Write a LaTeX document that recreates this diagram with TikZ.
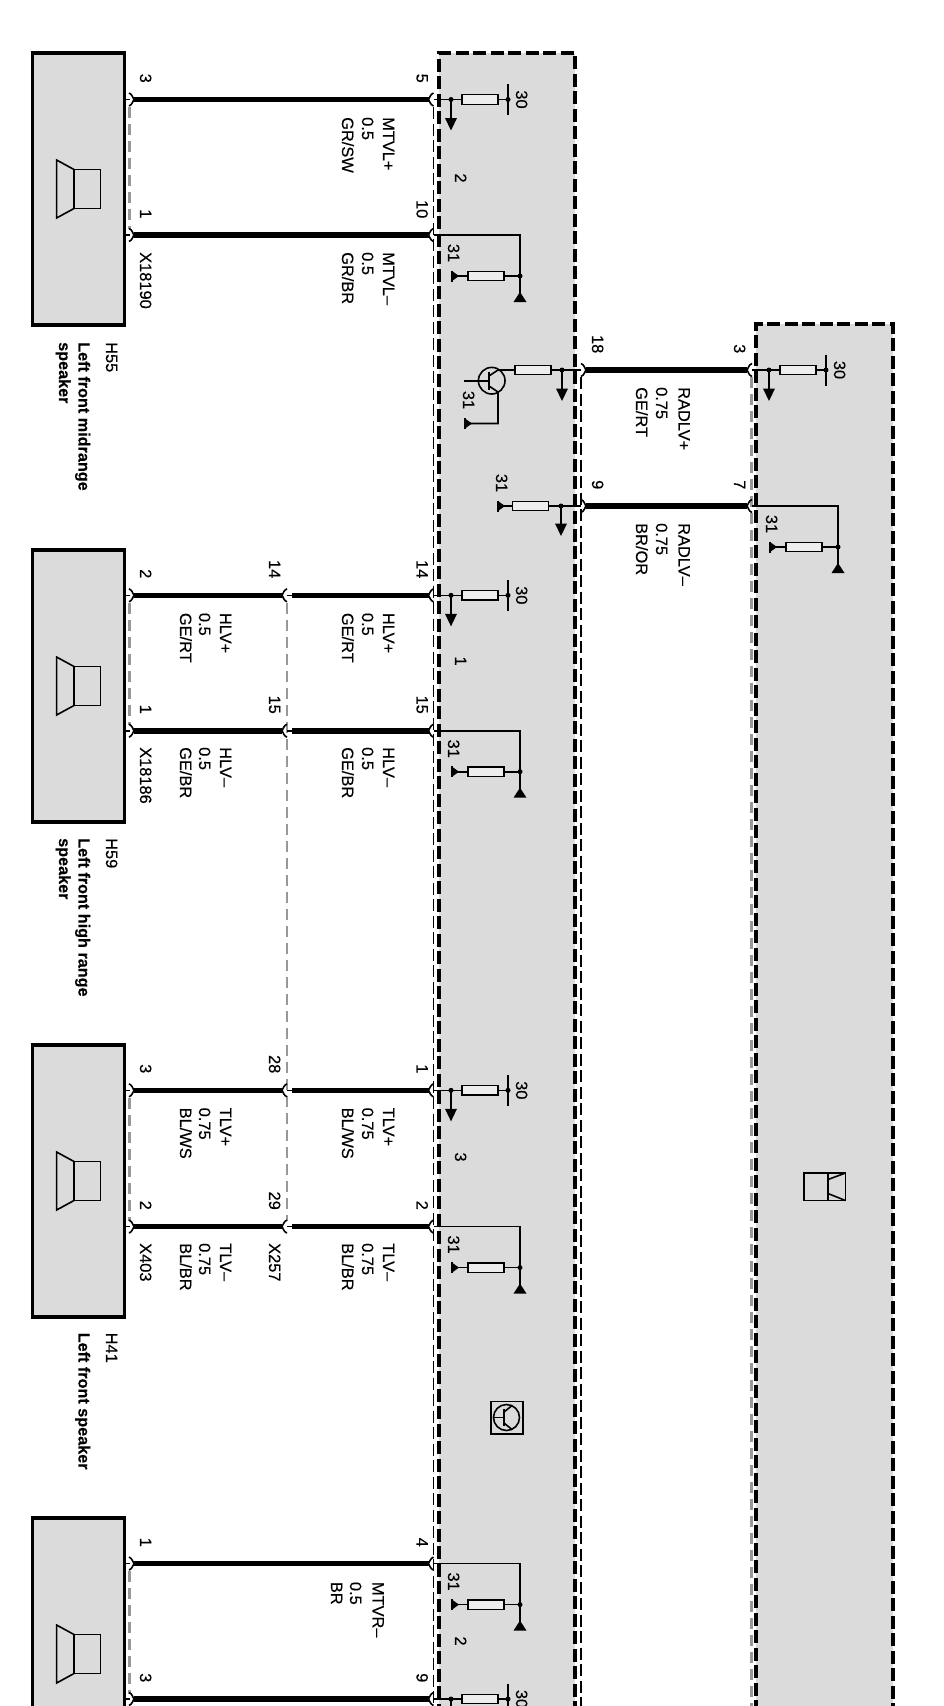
\documentclass[tikz,border=0pt]{standalone}
\usepackage{fontspec}
\setmainfont[FakeBold=0.25]{Liberation Sans}
\definecolor{panel}{HTML}{DBDBDB}
\definecolor{resfill}{HTML}{EDEDED}
\definecolor{dashgray}{HTML}{989898}
\tikzset{
  wireline/.style={line width=5.6pt},
  thin line/.style={line width=1.6pt},
  chevline/.style={line width=1.6pt},
  modbox/.style={draw,fill=panel,line width=3.6pt,dash pattern=on 13pt off 4.5pt,inner sep=0pt,outer sep=0pt},
  spkbox/.style={draw,fill=panel,line width=3.6pt,inner sep=0pt,outer sep=0pt},
  thindash/.style={line width=1.5pt,dash pattern=on 12pt off 4.5pt},
  graydash/.style={draw=dashgray,line width=2.4pt,dash pattern=on 11pt off 6pt},
  res/.style={draw,fill=resfill,line width=1.4pt,minimum width=36pt,minimum height=9.5pt,inner sep=0pt,outer sep=0pt},
  txt/.style={xshift=2pt,rotate=-90,inner sep=0pt,font=\fontsize{16.4}{18}\selectfont},
  pinlab/.style={txt,anchor=base east},
  wirelab/.style={txt,anchor=base west},
  numlab/.style={txt,anchor=base},
  boldlab/.style={txt,anchor=base west,font=\fontsize{16.2}{18}\selectfont\bfseries},
}
% wire: id, x1, x2, y
\newcommand\wire[4]{%
  \coordinate (#1-a) at (#2,#4);\coordinate (#1-b) at (#3,#4);
  \draw[wireline] (#1-a) -- (#1-b);}
% chevron: tip x, direction, y
\newcommand\chev[3]{%
  \draw[chevline] ({#1+#2*5},{#3-6.5}) .. controls ({#1+#2*1.5},{#3-5}) and ({#1+#2*1.5},{#3-2}) .. (#1,#3)
    .. controls ({#1+#2*1.5},{#3+2}) and ({#1+#2*1.5},{#3+5}) .. ({#1+#2*5},{#3+6.5});}
% three-line wire label: id, base x1, x2, x3, y, lines
\newcommand\wlab[8]{%
  \node[wirelab] (#1-1) at (#2,#5) {#6};
  \node[wirelab] (#1-2) at (#3,#5) {#7};
  \node[wirelab] (#1-3) at (#4,#5) {#8};}
% triangles
\newcommand\downarrowtip[2]{\fill (#1-6,#2-12.5) -- (#1+6,#2-12.5) -- (#1,#2) -- cycle;}
\newcommand\gndup[2]{\fill (#1-6.5,#2) -- (#1+6.5,#2) -- (#1,#2-10) -- cycle;}
\newcommand\gndleft[2]{\fill (#1,#2-5) -- (#1,#2+5) -- (#1+7,#2) -- cycle;\draw[thin line] (#1,#2-5.5) -- (#1,#2+5.5);}
\newcommand\junction[2]{\fill (#1,#2) circle (2.5pt);}
% +30 block: id, y
\newcommand\plusblock[2]{%
  \coordinate (#1-in) at (434,#2);\coordinate (#1-j) at (451,#2);\coordinate (#1-bar) at (508,#2);
  \coordinate (#1-tip) at (451,#2+31);
  \node[res] (#1-r) at (480,#2) {};
  \draw[thin line] (#1-in) -- (#1-r.west);
  \draw[thin line] (#1-r.east) -- (#1-bar);
  \draw[thin line] (#1-j) -- ++(0,20);
  \draw[thin line] (508,#2-15.5) -- (508,#2+15.5);
  \junction{451}{#2}\junction{508}{#2}
  \downarrowtip{451}{#2+31}
  \node[numlab] (#1-30) at (514,#2) {30};}
% 31 block: id, y
\newcommand\minusblock[2]{%
  \coordinate (#1-in) at (434,#2);\coordinate (#1-c) at (520,#2);\coordinate (#1-j) at (520,#2+41);
  \coordinate (#1-e) at (520,#2+60);\coordinate (#1-t) at (452,#2+41);
  \node[res] (#1-r) at (486,#2+41) {};
  \draw[thin line] (#1-in) -- (#1-c) -- (#1-e);
  \draw[thin line] (#1-j) -- (#1-r.east);
  \draw[thin line] (#1-r.west) -- (#1-t);
  \junction{520}{#2+41}
  \gndup{520}{#2+67}
  \gndleft{452}{#2+41}
  \node[numlab] (#1-31) at (446,#2+18) {31};}
% speaker box: id, top y
\newcommand\spkicon[2]{%
  \draw[thin line] (74,#2-19.5) rectangle (100.6,#2+19.5);
  \draw[thin line] (74,#2-19.5) -- (56.6,#2-29) -- (56.6,#2+29) -- (74,#2+19.5);}
\newcommand\speakerbox[2]{%
  \node[spkbox,minimum width=92pt,minimum height=272pt] (#1) at (78.4,#2+136) {};
  \spkicon{#1}{#2+136}}
\begin{document}
\begin{tikzpicture}[x=1pt,y=-1pt]
\useasboundingbox (0,0) rectangle (943,1706);
\clip (0,0) rectangle (943,1706);
\fill[white] (0,0) rectangle (943,1706);

% modules
\node[modbox,minimum width=136pt,minimum height=1700pt,anchor=north west] (modA) at (439,53) {};
\node[modbox,minimum width=137pt,minimum height=1430pt,anchor=north west] (modB) at (756,324) {};

% thin inner dashed borders
\draw[thindash] (433.6,107) -- (433.6,1720);
\draw[thindash] (581,377) -- (581,1720);
\draw[graydash] (751.5,377) -- (751.5,1720);

% gray dashed shields
\draw[graydash] (129.5,107) -- (129.5,229);
\draw[graydash] (129.5,603) -- (129.5,725);
\draw[graydash] (129.5,1098) -- (129.5,1221);
\draw[graydash] (129.5,1571) -- (129.5,1694);
\draw[graydash] (287,603) -- (287,1221);

% speaker boxes
\speakerbox{H55box}{53}
\speakerbox{H59box}{550}
\speakerbox{H41box}{1045}
\speakerbox{H4box}{1518}

% direct wires
\foreach \n/\y in {a/99.5,b/235,g/1563.6,h/1699}{
  \wire{w\n}{134}{428.5}{\y}
  \chev{134}{-1}{\y}\chev{428.5}{1}{\y}
  \draw[thin line] (124,\y) -- (130,\y);
}
% wires through the X257 connector
\foreach \n/\y in {c/595.3,d/730.7,e/1090.3,f/1226.6}{
  \wire{w\n l}{134}{282}{\y}
  \wire{w\n r}{292}{428.5}{\y}
  \chev{134}{-1}{\y}\chev{282}{1}{\y}\chev{428.5}{1}{\y}
  \draw[thin line] (124,\y) -- (130,\y);
  \draw[thin line] (287,\y) -- (292,\y);
}
% RAD wires
\foreach \n/\y in {p/370,q/506}{
  \wire{w\n}{586}{747}{\y}
  \chev{586}{-1}{\y}\chev{747}{1}{\y}
}

% module A circuits
\plusblock{pa}{99.5}
\minusblock{ma}{235}
\plusblock{pb}{595.3}
\minusblock{mb}{730.7}
\plusblock{pc}{1090.3}
\minusblock{mc}{1226.6}
\minusblock{md}{1563.6}
\plusblock{pd}{1699}

% module A transistor input
\coordinate (ti) at (581,370);\coordinate (tj) at (562,370);\coordinate (tc) at (498,370);
\node[res] (tr) at (533,370) {};
\draw[thin line] (ti) -- (tr.east);
\draw[thin line] (tr.west) -- (tc) -- (489,376);
\draw[thin line] (tj) -- ++(0,20);
\junction{562}{370}
\downarrowtip{562}{401}
\draw[thin line] (491.7,380.7) circle (13.3pt);
\draw[thin line] (464,381) -- (489,381);
\draw[line width=1.8pt] (489,372) -- (489,390);
\coordinate (te) at (498,392);\coordinate (tg) at (498,423.5);\coordinate (tt) at (465,423.5);
\draw[thin line] (489,386) -- (te) -- (tg) -- (tt);
\gndleft{465}{423.5}
\node[numlab] (t31) at (461,400) {31};

% module A second input
\coordinate (ui) at (581,506);\coordinate (uj) at (561,506);\coordinate (ut) at (498,506);
\node[res] (ur) at (530.5,506) {};
\draw[thin line] (ui) -- (ur.east);
\draw[thin line] (ur.west) -- (ut);
\draw[thin line] (uj) -- ++(0,18);
\junction{561}{506}
\downarrowtip{561}{536}
\gndleft{498}{506}
\node[numlab] (u31) at (494,483) {31};

% module B circuits
\begin{scope}[shift={(318,0)}]
\plusblock{pe}{370}
\minusblock{me}{506}
\end{scope}

% module numbers
\node[numlab] (n2a) at (453,178) {2};
\node[numlab] (n1) at (453,661) {1};
\node[numlab] (n3) at (453,1157) {3};
\node[numlab] (n2b) at (453,1641) {2};

% icons
\draw[line width=1.7pt] (491,1401.5) rectangle (523,1434);
\draw[thin line] (506.5,1417.5) circle (13pt);
\draw[thin line] (493.5,1417.5) -- (504,1417.5);
\draw[line width=1.6pt] (504,1409) -- (504,1426);
\draw[thin line] (504,1412) -- (512,1405.5);
\draw[thin line] (504,1423) -- (512,1429.5);
\draw[line width=1.8pt] (804,1172.7) rectangle (845.5,1200.5);
\draw[line width=1.8pt] (828,1172.7) -- (828,1200.5);
\draw[thin line] (828,1179.5) -- (845.5,1173);
\draw[thin line] (828,1193.5) -- (845.5,1200.5);

% pin numbers
\foreach \t/\x/\y/\nm in {
 3/138/83/pa1,5/414.5/83/pa2,1/138/218.5/pb1,10/414.5/218.5/pb2,
 2/138/578.5/pc1,14/267/578.5/pc2,14/414.5/578.5/pc3,
 1/138/714/pd1,15/267/714/pd2,15/414.5/714/pd3,
 3/138/1073.5/pe1,28/267/1073.5/pe2,1/414.5/1073.5/pe3,
 2/138/1210/pf1,29/267/1210/pf2,2/414.5/1210/pf3,
 1/138/1547/pg1,4/414.5/1547/pg2,
 3/138/1682.5/ph1,9/414.5/1682.5/ph2,
 18/590/353.5/pp1,3/732/353.5/pp2,
 9/590/489.5/pq1,7/732/489.5/pq2}{
  \node[pinlab] (\nm) at (\x,\y) {\t};
}
% connector names
\node[wirelab] (x18190) at (138,252) {X18190};
\node[wirelab] (x18186) at (138,747) {X18186};
\node[wirelab] (x403) at (138,1243) {X403};
\node[wirelab] (x257) at (267,1243) {X257};

% wire labels
\wlab{l1}{381}{360}{340}{117}{MTVL+}{0.5}{GR/SW}
\wlab{l2}{381}{360}{340}{252}{MTVL–}{0.5}{GR/BR}
\wlab{l3}{218}{197}{178}{612.7}{HLV+}{0.5}{GE/RT}
\wlab{l4}{381}{360}{340}{612.7}{HLV+}{0.5}{GE/RT}
\wlab{l5}{218}{197}{178}{747}{HLV–}{0.5}{GE/BR}
\wlab{l6}{381}{360}{340}{747}{HLV–}{0.5}{GE/BR}
\wlab{l7}{218}{197}{178}{1107.5}{TLV+}{0.75}{BL/WS}
\wlab{l8}{381}{360}{340}{1107.5}{TLV+}{0.75}{BL/WS}
\wlab{l9}{218}{197}{178}{1243}{TLV–}{0.75}{BL/BR}
\wlab{l10}{381}{360}{340}{1243}{TLV–}{0.75}{BL/BR}
\wlab{l11}{370.5}{348}{329}{1581.7}{MTVR–}{0.5}{BR}
\wlab{l12}{676.5}{654}{634}{387}{RADLV+}{0.75}{GE/RT}
\wlab{l13}{676.5}{654}{634}{523}{RADLV–}{0.75}{BR/OR}

% component names
\node[wirelab] (h55) at (104,342) {H55};
\node[boldlab] (h55a) at (76.5,342) {Left front midrange};
\node[boldlab] (h55b) at (57,342) {speaker};
\node[wirelab] (h59) at (104,838) {H59};
\node[boldlab] (h59a) at (76.5,838) {Left front high range};
\node[boldlab] (h59b) at (57,838) {speaker};
\node[wirelab] (h41) at (104,1332.5) {H41};
\node[boldlab] (h41a) at (76.5,1332.5) {Left front speaker};
\end{tikzpicture}
\end{document}
